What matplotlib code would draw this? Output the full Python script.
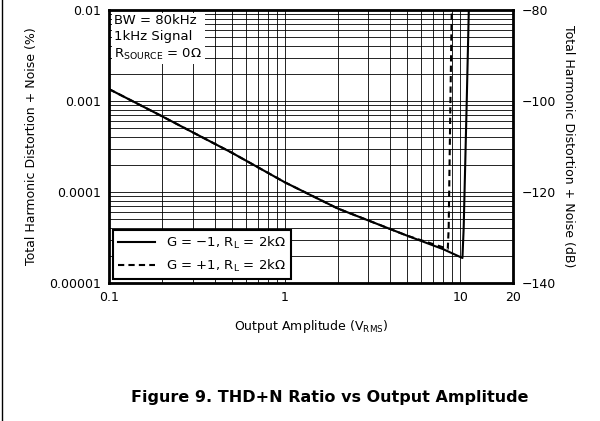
import numpy as np
import matplotlib.pyplot as plt
from matplotlib.lines import Line2D

# G = -1 curve (solid)
x_inv = [0.1, 0.2, 0.5, 1.0, 2.0, 5.0, 8.0, 10.3, 10.47, 10.9, 11.2]
y_inv = [0.00135, 0.00068, 0.00027, 0.000128, 0.000066, 0.000033, 0.0000235, 0.0000188, 0.000040, 0.001, 0.01]
# G = +1 curve (dashed)
x_non = [0.1, 0.2, 0.5, 1.0, 2.0, 5.0, 8.5, 8.6, 8.8, 8.95]
y_non = [0.00135, 0.00068, 0.00027, 0.000128, 0.000066, 0.000033, 0.0000237, 0.00004, 0.001, 0.01]

xticks = [0.1, 1, 10, 20]
xtick_labels = ["0.1", "1", "10", "20"]
yticks = [0.00001, 0.0001, 0.001, 0.01]
ytick_labels = ["0.00001", "0.0001", "0.001", "0.01"]
db_ticks = [-140, -120, -100, -80]

fig = plt.figure(figsize=(6, 4.21), dpi=100)
ax = fig.add_axes([0.182, 0.328, 0.673, 0.648])
ax.set_xscale("log")
ax.set_yscale("log")
ax.set_xlim(0.1, 20)
ax.set_ylim(0.00001, 0.01)

ax.grid(True, which="both", color="black", lw=0.6)
ax.plot(x_inv, y_inv, color="black", lw=1.5, label="G = \u22121, R$_\\mathregular{L}$ = 2k\u03a9")
ax.plot(x_non, y_non, color="black", lw=1.5, ls=(0, (3, 2)), label="G = +1, R$_\\mathregular{L}$ = 2k\u03a9")

ax.set_xticks(xticks)
ax.set_xticklabels(xtick_labels)
ax.set_yticks(yticks)
ax.set_yticklabels(ytick_labels)
ax.tick_params(which="both", length=0, labelsize=9, pad=6)
for s in ax.spines.values():
    s.set_linewidth(2)
ax.set_xlabel("Output Amplitude (V$_\\mathregular{RMS}$)", fontsize=9, labelpad=10)
ax.set_ylabel("Total Harmonic Distortion + Noise (%)", fontsize=9, labelpad=8)

ax2 = ax.twinx()
ax2.set_ylim(-140, -80)
ax2.set_yticks(db_ticks)
ax2.set_yticklabels(["\u2212" + str(abs(t)) for t in db_ticks])
ax2.tick_params(length=0, labelsize=9, pad=6)
ax2.set_ylabel("Total Harmonic Distortion + Noise (dB)", fontsize=9, rotation=270, labelpad=14)

ax.text(0.013, 0.985, "BW = 80kHz\n1kHz Signal\nR$_\\mathregular{SOURCE}$ = 0\u03a9",
        transform=ax.transAxes, va="top", ha="left", fontsize=9.5, linespacing=1.3,
        bbox=dict(facecolor="white", edgecolor="none", pad=2))
leg = ax.legend(loc="lower left", fontsize=9.5, frameon=True, fancybox=False,
                framealpha=1, edgecolor="black", borderaxespad=0.3, handlelength=2.8)
leg.get_frame().set_linewidth(1.5)

fig.text(0.55, 0.045, "Figure 9. THD+N Ratio vs Output Amplitude", ha="center",
         fontsize=11.5, fontweight="bold")
fig.add_artist(Line2D([0.004, 0.004], [0, 1], color="black", lw=1, transform=fig.transFigure))

fig.savefig("out.png", dpi=100)
